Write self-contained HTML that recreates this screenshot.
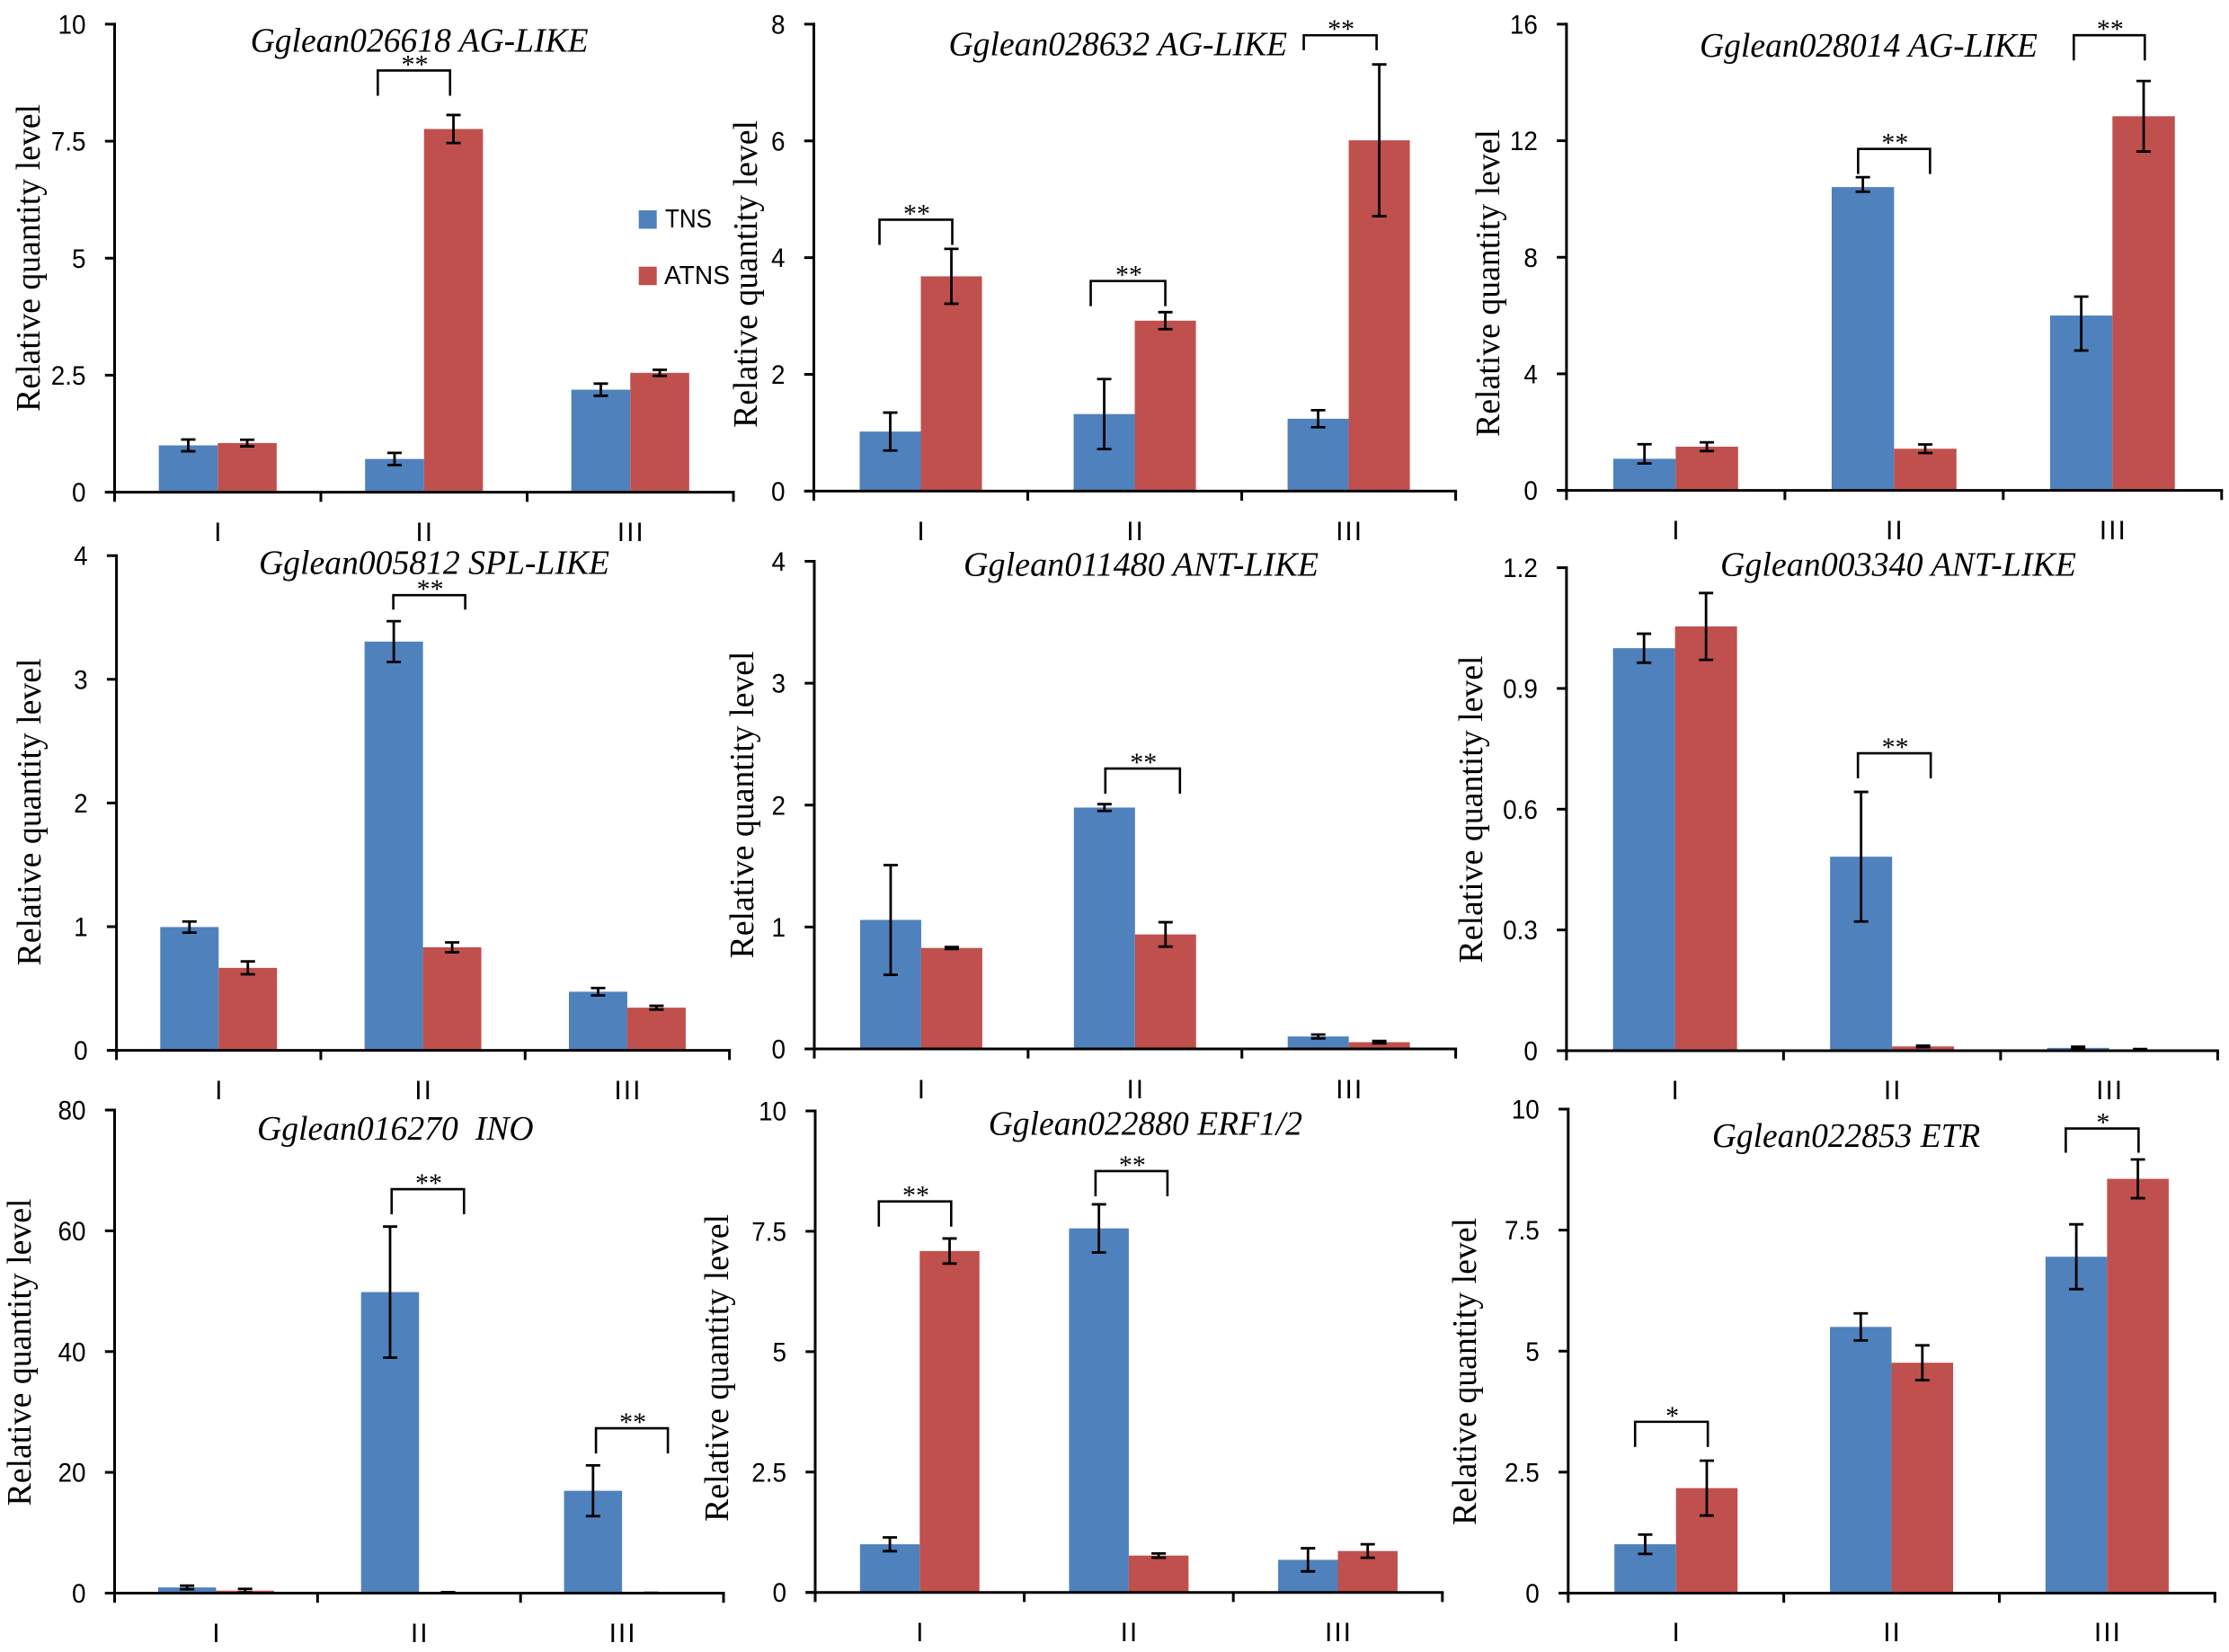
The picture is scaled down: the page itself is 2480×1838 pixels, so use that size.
<!DOCTYPE html>
<html lang="en">
<head>
<meta charset="utf-8">
<title>Relative quantity level of floral genes</title>
<style>
html,body{margin:0;padding:0;background:#fff;}
svg{display:block;}
.sans{font-family:"Liberation Sans",sans-serif;fill:#000;}
.serif{font-family:"Liberation Serif",serif;fill:#000;}
</style>
</head>
<body>
<svg id="figure" xmlns="http://www.w3.org/2000/svg" width="2480" height="1838" viewBox="0 0 2480 1838">
<rect x="0" y="0" width="2480" height="1838" fill="#ffffff"/>
<g>
<rect x="710.7" y="234" width="20" height="20.5" fill="#4F81BD"/>
<text class="sans" x="740" y="253" font-size="29" textLength="52" lengthAdjust="spacingAndGlyphs">TNS</text>
<rect x="710.7" y="296.7" width="20" height="20.5" fill="#C0504D"/>
<text class="sans" x="739" y="316" font-size="29" textLength="73" lengthAdjust="spacingAndGlyphs">ATNS</text>
</g>
</svg>
<script>
// Shared categories
const categories = ['I', 'II', 'III'];

// Panel 1: Gglean026618 AG-LIKE
const yTicks1 = [0, 2.5, 5, 7.5, 10];
const tns1 = [1.0, 0.71, 2.19];
const atns1 = [1.05, 7.76, 2.55];
const tnsErr1 = [0.125, 0.13, 0.13];
const atnsErr1 = [0.07, 0.30, 0.065];
const sigCats1 = [1];
const sigLevels1 = [9.01];
const sigMarks1 = ['**'];

// Panel 2: Gglean028632 AG-LIKE
const yTicks2 = [0, 2, 4, 6, 8];
const tns2 = [1.02, 1.32, 1.24];
const atns2 = [3.68, 2.92, 6.01];
const tnsErr2 = [0.325, 0.6, 0.146];
const atnsErr2 = [0.47, 0.146, 1.30];
const sigCats2 = [0, 1, 2];
const sigLevels2 = [4.65, 3.60, 7.81];
const sigMarks2 = ['**', '**', '**'];

// Panel 3: Gglean028014 AG-LIKE (TNS whiskers are asymmetric here)
const yTicks3 = [0, 4, 8, 12, 16];
const tns3 = [1.085, 10.41, 6.0];
const atns3 = [1.5, 1.43, 12.84];
const tnsErr3 = [0.5, 0.34, 0.65];
const tnsErrLow3 = [0.16, 0.16, 1.2];
const atnsErr3 = [0.15, 0.146, 1.21];
const sigCats3 = [1, 2];
const sigLevels3 = [11.72, 15.62];
const sigMarks3 = ['**', '**'];

// Panel 4: Gglean005812 SPL-LIKE
const yTicks4 = [0, 1, 2, 3, 4];
const tns4 = [0.997, 3.305, 0.474];
const atns4 = [0.667, 0.833, 0.345];
const tnsErr4 = [0.045, 0.165, 0.03];
const atnsErr4 = [0.052, 0.04, 0.015];
const sigCats4 = [1];
const sigLevels4 = [3.68];
const sigMarks4 = ['**'];

// Panel 5: Gglean011480 ANT-LIKE
const yTicks5 = [0, 1, 2, 3, 4];
const tns5 = [1.058, 1.98, 0.102];
const atns5 = [0.828, 0.939, 0.055];
const tnsErr5 = [0.45, 0.028, 0.016];
const atnsErr5 = [0.008, 0.1, 0.01];
const sigCats5 = [1];
const sigLevels5 = [2.30];
const sigMarks5 = ['**'];

// Panel 6: Gglean003340 ANT-LIKE
const yTicks6 = [0, 0.3, 0.6, 0.9, 1.2];
const tns6 = [1.0, 0.482, 0.007];
const atns6 = [1.054, 0.0106, 0.003];
const tnsErr6 = [0.036, 0.161, 0.003];
const atnsErr6 = [0.083, 0.002, 0.001];
const sigCats6 = [1];
const sigLevels6 = [0.739];
const sigMarks6 = ['**'];

// Panel 7: Gglean016270 INO
const yTicks7 = [0, 20, 40, 60, 80];
const tns7 = [0.94, 49.85, 16.95];
const atns7 = [0.41, 0.06, 0.03];
const tnsErr7 = [0.3, 10.85, 4.2];
const atnsErr7 = [0.3, 0.1, 0.03];
const sigCats7 = [1, 2];
const sigLevels7 = [66.9, 27.3];
const sigMarks7 = ['**', '**'];

// Panel 8: Gglean022880 ERF1/2
const yTicks8 = [0, 2.5, 5, 7.5, 10];
const tns8 = [1.0, 7.56, 0.677];
const atns8 = [7.09, 0.765, 0.86];
const tnsErr8 = [0.143, 0.5, 0.24];
const atnsErr8 = [0.26, 0.044, 0.14];
const sigCats8 = [0, 1];
const sigLevels8 = [8.12, 8.75];
const sigMarks8 = ['**', '**'];

// Panel 9: Gglean022853 ETR
const yTicks9 = [0, 2.5, 5, 7.5, 10];
const tns9 = [1.01, 5.5, 6.95];
const atns9 = [2.17, 4.76, 8.56];
const tnsErr9 = [0.2, 0.28, 0.67];
const atnsErr9 = [0.567, 0.36, 0.4];
const sigCats9 = [0, 2];
const sigLevels9 = [3.54, 9.6];
const sigMarks9 = ['*', '*'];

// Layout of each panel (separate from the data above)
const panels = [
  {id:1, title:'Gglean026618 AG-LIKE', tx:278.6, ty:57.3, tw:376, x0:127.5, x1:816, yTop:26.9, yZero:547.6, xb:602, ytx:44, yty:287,
   ticks:yTicks1, tns:tns1, atns:atns1, tnsErr:tnsErr1, atnsErr:atnsErr1, sigCats:sigCats1, sigLevels:sigLevels1, sigMarks:sigMarks1, sigLeft:[-51.4], sigRight:[29], sigDrop:[28]},
  {id:2, title:'Gglean028632 AG-LIKE', tx:1055.5, ty:61.3, tw:376.6, x0:905.5, x1:1619.6, yTop:26.9, yZero:546.4, xb:601, ytx:842, yty:305,
   ticks:yTicks2, tns:tns2, atns:atns2, tnsErr:tnsErr2, atnsErr:atnsErr2, sigCats:sigCats2, sigLevels:sigLevels2, sigMarks:sigMarks2, sigLeft:[-46,-49,-50], sigRight:[35,34,31], sigDrop:[28,28,16.6]},
  {id:3, title:'Gglean028014 AG-LIKE', tx:1891, ty:63, tw:376, x0:1742.9, x1:2471.8, yTop:26.9, yZero:545.6, xb:600, ytx:1668, yty:315,
   ticks:yTicks3, tns:tns3, atns:atns3, tnsErr:tnsErr3, tnsErrLow:tnsErrLow3, atnsErr:atnsErr3, sigCats:sigCats3, sigLevels:sigLevels3, sigMarks:sigMarks3, sigLeft:[-40,-43], sigRight:[40,36], sigDrop:[28,28]},
  {id:4, title:'Gglean005812 SPL-LIKE', tx:288, ty:638.4, tw:390, x0:129.6, x1:811.6, yTop:618.2, yZero:1168.6, xb:1223, ytx:45, yty:903.5,
   ticks:yTicks4, tns:tns4, atns:atns4, tnsErr:tnsErr4, atnsErr:atnsErr4, sigCats:sigCats4, sigLevels:sigLevels4, sigMarks:sigMarks4, sigLeft:[-33], sigRight:[47], sigDrop:[16]},
  {id:5, title:'Gglean011480 ANT-LIKE', tx:1072, ty:640.7, tw:395, x0:906, x1:1619.6, yTop:624.5, yZero:1167, xb:1222, ytx:838, yty:895.5,
   ticks:yTicks5, tns:tns5, atns:atns5, tnsErr:tnsErr5, atnsErr:atnsErr5, sigCats:sigCats5, sigLevels:sigLevels5, sigMarks:sigMarks5, sigLeft:[-33], sigRight:[50], sigDrop:[28]},
  {id:6, title:'Gglean003340 ANT-LIKE', tx:1914, ty:640.7, tw:396, x0:1742.9, x1:2467.4, yTop:631.6, yZero:1169, xb:1223, ytx:1649, yty:900.5,
   ticks:yTicks6, tns:tns6, atns:atns6, tnsErr:tnsErr6, atnsErr:atnsErr6, sigCats:sigCats6, sigLevels:sigLevels6, sigMarks:sigMarks6, sigLeft:[-38], sigRight:[43], sigDrop:[28]},
  {id:7, title:'Gglean016270  INO', tx:286, ty:1268, tw:307.6, x0:127.5, x1:805, yTop:1235, yZero:1772.5, xb:1827, ytx:34, yty:1504.5,
   ticks:yTicks7, tns:tns7, atns:atns7, tnsErr:tnsErr7, atnsErr:atnsErr7, sigCats:sigCats7, sigLevels:sigLevels7, sigMarks:sigMarks7, sigLeft:[-30.5,-29], sigRight:[50,51], sigDrop:[28,28]},
  {id:8, title:'Gglean022880 ERF1/2', tx:1099.7, ty:1262.6, tw:349.3, x0:907, x1:1604.8, yTop:1236, yZero:1771.7, xb:1826, ytx:810, yty:1522,
   ticks:yTicks8, tns:tns8, atns:atns8, tnsErr:tnsErr8, atnsErr:atnsErr8, sigCats:sigCats8, sigLevels:sigLevels8, sigMarks:sigMarks8, sigLeft:[-45.5,-37], sigRight:[35,43], sigDrop:[28,28]},
  {id:9, title:'Gglean022853 ETR', tx:1904.9, ty:1276, tw:298.4, x0:1744.8, x1:2464.3, yTop:1234, yZero:1772.5, xb:1826, ytx:1642, yty:1526,
   ticks:yTicks9, tns:tns9, atns:atns9, tnsErr:tnsErr9, atnsErr:atnsErr9, sigCats:sigCats9, sigLevels:sigLevels9, sigMarks:sigMarks9, sigLeft:[-45.5,-46], sigRight:[35.4,35], sigDrop:[28,27]}
];

const SVGNS = 'http://www.w3.org/2000/svg';
const BLUE = '#4F81BD';
const RED = '#C0504D';
const LINE_W = 3;
const ERR_W = 2.8;
const CAP_HALF = 8;
const TICK_LEN = 10.7;
const figure = document.getElementById('figure');

function make(tag, parent, props) {
  const el = document.createElementNS(SVGNS, tag);
  for (const k in props) {
    el.setAttribute(k, props[k]);
  }
  parent.appendChild(el);
  return el;
}

function drawPanel(p) {
  const slug = 'panel-' + p.id;
  const yMax = p.ticks[p.ticks.length - 1];
  const yScale = function (v) { return p.yZero - (v / yMax) * (p.yZero - p.yTop); };
  const step = (p.x1 - p.x0) / categories.length;
  const barW = step / 3.5;
  const catCenter = function (i) { return p.x0 + (i + 0.5) * step; };

  const g = make('g', figure, {});
  
  

  const title = make('text', g, {class:'serif', x:p.tx, y:p.ty, 'font-size':38, 'font-style':'italic', textLength:p.tw, lengthAdjust:'spacingAndGlyphs', style:'white-space:pre'});
  title.textContent = p.title;
  
  

  const yTitle = make('text', g, {class:'serif', transform:'translate(' + p.ytx + ',' + p.yty + ') rotate(-90)', 'text-anchor':'middle', 'font-size':38, textLength:342, lengthAdjust:'spacingAndGlyphs'});
  yTitle.textContent = 'Relative quantity level';
  
  

  categories.forEach(function (cat, i) {
    const cx = catCenter(i);
    const series = [
      {name:'tns', v:p.tns[i], e:p.tnsErr[i], eLow:p.tnsErrLow ? p.tnsErrLow[i] : p.tnsErr[i], color:BLUE, x:cx - barW},
      {name:'atns', v:p.atns[i], e:p.atnsErr[i], eLow:p.atnsErr[i], color:RED, x:cx}
    ];
    series.forEach(function (s) {
      const top = yScale(s.v);
      const bar = make('rect', g, {x:s.x, y:top, width:barW, height:p.yZero - top, fill:s.color});
      
      
    });
    series.forEach(function (s) {
      const mx = s.x + barW / 2;
      const hi = yScale(s.v + s.e);
      const lo = yScale(Math.max(0, s.v - s.eLow));
      const err = make('path', g, {d:'M' + (mx - CAP_HALF) + ' ' + hi + 'H' + (mx + CAP_HALF) + 'M' + mx + ' ' + hi + 'V' + lo + 'M' + (mx - CAP_HALF) + ' ' + lo + 'H' + (mx + CAP_HALF), fill:'none', stroke:'#000', 'stroke-width':ERR_W});
      
      
    });
    const xl = make('text', g, {class:'sans', x:cx + 1, y:p.xb, 'text-anchor':'middle', 'font-size':30, 'letter-spacing':2});
    xl.textContent = cat;
    
    
  });

  p.ticks.forEach(function (t) {
    const y = yScale(t);
    const tick = make('line', g, {x1:p.x0 - TICK_LEN, x2:p.x0, y1:y, y2:y, stroke:'#000', 'stroke-width':LINE_W});
    
    
    const lab = make('text', g, {class:'sans', transform:'translate(' + (p.x0 - 32) + ',' + (y + 10.5) + ') scale(0.93,1)', 'text-anchor':'end', 'font-size':30});
    lab.textContent = String(t);
    
    
  });

  for (let i = 0; i <= categories.length; i++) {
    const x = p.x0 + i * step;
    const xt = make('line', g, {x1:x, x2:x, y1:p.yZero, y2:p.yZero + TICK_LEN, stroke:'#000', 'stroke-width':LINE_W});
    
    
  }

  const yAxis = make('line', g, {x1:p.x0, x2:p.x0, y1:p.yTop - LINE_W / 2, y2:p.yZero, stroke:'#000', 'stroke-width':LINE_W});
  
  
  const xAxis = make('line', g, {x1:p.x0 - TICK_LEN, x2:p.x1 + LINE_W / 2, y1:p.yZero, y2:p.yZero, stroke:'#000', 'stroke-width':LINE_W});
  
  

  p.sigCats.forEach(function (c, i) {
    const cx = catCenter(c);
    const top = yScale(p.sigLevels[i]);
    const left = cx + p.sigLeft[i];
    const right = cx + p.sigRight[i];
    const bottom = top + p.sigDrop[i];
    const br = make('path', g, {d:'M' + left + ' ' + bottom + 'V' + top + 'H' + right + 'V' + bottom, fill:'none', stroke:'#000', 'stroke-width':2.6});
    
    
    const st = make('text', g, {class:'serif', x:(left + right) / 2 + 1, y:top + 3, 'text-anchor':'middle', 'font-size':30});
    st.textContent = p.sigMarks[i];
    
    
  });
}

panels.forEach(drawPanel);
</script>
</body>
</html>
